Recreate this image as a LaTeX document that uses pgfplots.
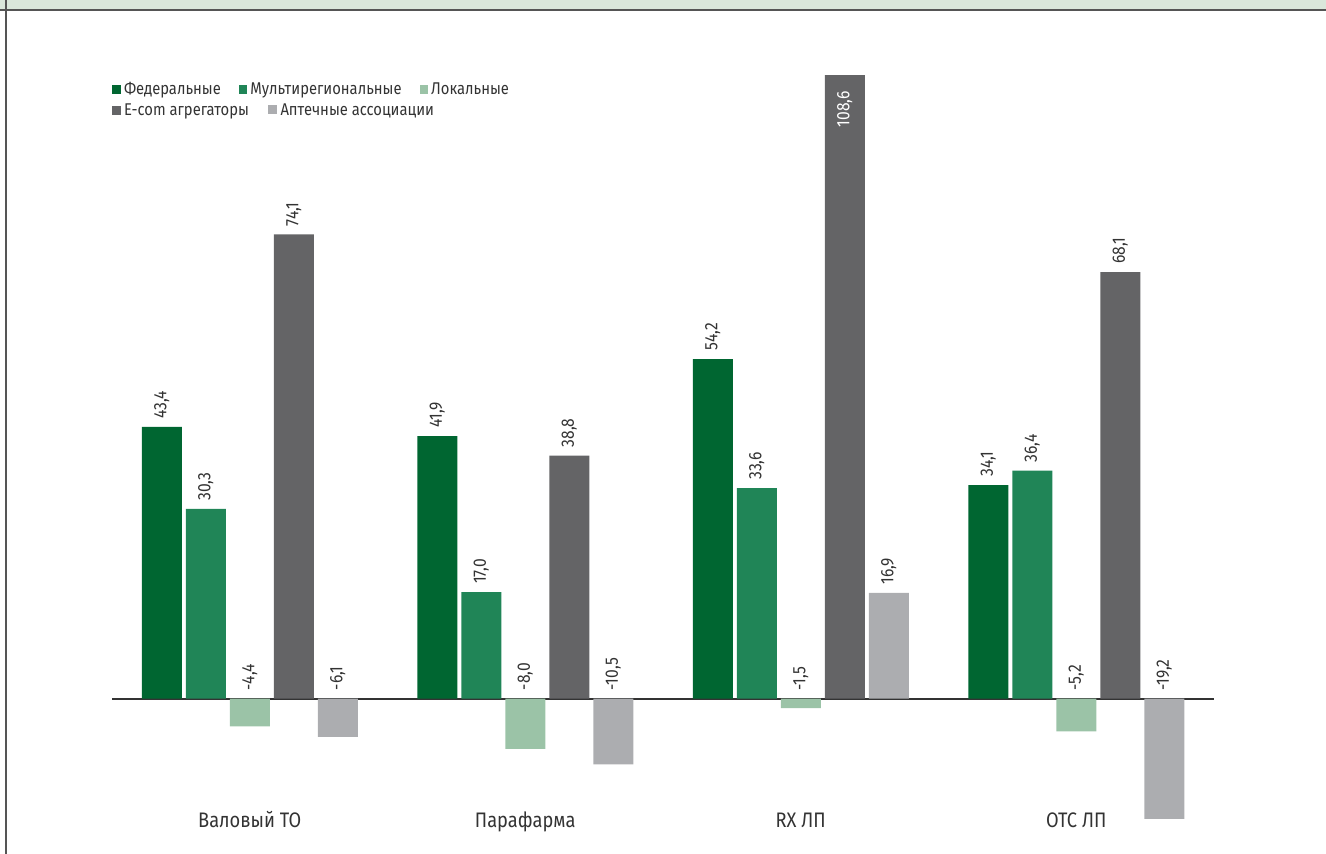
\documentclass[border=0pt]{standalone}
\usepackage{fontspec}
\setmainfont{Fira Sans}[FakeStretch=0.87]
\usepackage{pgfplots}
\usepackage{pgfplotstable}
\pgfplotsset{compat=1.18}

\definecolor{cfed}{HTML}{006631}
\definecolor{cmulti}{HTML}{208557}
\definecolor{cloc}{HTML}{9BC3A7}
\definecolor{cecom}{HTML}{646466}
\definecolor{capt}{HTML}{ACADB0}
\definecolor{ctext}{HTML}{333333}
\definecolor{cband}{HTML}{DAE7DB}
\definecolor{cframe}{HTML}{555555}

% x = category (0 Валовый ТО, 1 Парафарма, 2 RX ЛП, 3 ОТС ЛП)
\pgfplotstableread{
x y lab
0 43.4 43,4
1 41.9 41,9
2 54.2 54,2
3 34.1 34,1
}\fed
\pgfplotstableread{
x y lab
0 30.3 30,3
1 17.0 17,0
2 33.6 33,6
3 36.4 36,4
}\multi
\pgfplotstableread{
x y lab
0 -4.4 -4,4
1 -8.0 -8,0
2 -1.5 -1,5
3 -5.2 -5,2
}\loc
\pgfplotstableread{
x y lab
0 74.1 74,1
1 38.8 38,8
2 108.6 {}
3 68.1 68,1
}\ecom
\pgfplotstableread{
x y lab
0 -6.1 -6,1
1 -10.5 -10,5
2 16.9 16,9
3 -19.2 -19,2
}\apt

\begin{document}
\fontsize{8.5bp}{10bp}\selectfont
\begin{tikzpicture}
% frame
\useasboundingbox (0,0) rectangle (663bp,427bp);
\fill[cband] (0,422.5bp) rectangle (663bp,427bp);
\draw[cframe, line width=1bp] (0,422bp) -- (663bp,422bp);
\draw[cframe, line width=1bp] (3bp,0) -- (3bp,427bp);

\begin{axis}[
    at={(56bp,15bp)}, anchor=south west,
    scale only axis,
    width=551bp, height=374bp,
    xmin=-0.5, xmax=3.5,
    ymin=-20, ymax=99.4,
    ybar=2bp, bar width=20bp,
    axis line style={draw=none},
    ytick=\empty,
    xtick={0,1,2,3},
    xticklabels={Валовый ТО, Парафарма, RX ЛП, ОТС ЛП},
    xtick style={draw=none},
    xticklabel style={anchor=base, yshift=2.5bp, text=ctext, font=\fontsize{10.5bp}{12bp}\selectfont},
    point meta=explicit symbolic,
    nodes near coords,
    visualization depends on={rawy \as \rawy},
    every node near coord/.append style={
        shift={(axis direction cs:0,{-min(\rawy,0)})},
        rotate=90, anchor=west, inner sep=4bp, text=ctext,
        font=\fontsize{9bp}{10bp}\selectfont},
    legend columns=3,
    legend cell align=left,
    legend style={at={(0,0.997)}, anchor=north west, draw=none, fill=none,
        inner sep=0pt, row sep=-1bp,
        font=\fontsize{8.5bp}{10bp}\selectfont, text=ctext,
        nodes={inner xsep=1.5bp},
        /tikz/every even column/.append style={column sep=7.5bp}},
    legend image code/.code={\fill[#1] (0bp,-2.2bp) rectangle (4.3bp,2.3bp);},
]
\draw[ctext, line width=1bp] (axis cs:-0.5,0) -- (axis cs:3.5,0);
\addplot[fill=cfed, draw=none] table[x=x, y=y, meta=lab] {\fed};
\addlegendentry{Федеральные}
\addplot[fill=cmulti, draw=none] table[x=x, y=y, meta=lab] {\multi};
\addlegendentry{Мультирегиональные}
\addplot[fill=cloc, draw=none] table[x=x, y=y, meta=lab] {\loc};
\addlegendentry{Локальные}
\addplot[fill=cecom, draw=none] table[x=x, y=y, meta=lab] {\ecom};
% the second row flows on as one line: the Аптечные square follows in the text
\addlegendentry{\makebox[0pt][l]{E-com агрегаторы\hspace{9.5bp}\textcolor{capt}{\rule[0.8bp]{4.3bp}{4.5bp}}\hspace{2bp}Аптечные ассоциации}}
\addplot[fill=capt, draw=none] table[x=x, y=y, meta=lab] {\apt};
% the 108,6 bar runs past the top; its label sits inside the bar
\node[xshift=22bp, yshift=-7.5bp, rotate=90, anchor=east, text=white, inner sep=0pt,
      font=\fontsize{9bp}{10bp}\selectfont]
      at (axis cs:2,99.4) {108,6};
\end{axis}
\end{tikzpicture}
\end{document}
